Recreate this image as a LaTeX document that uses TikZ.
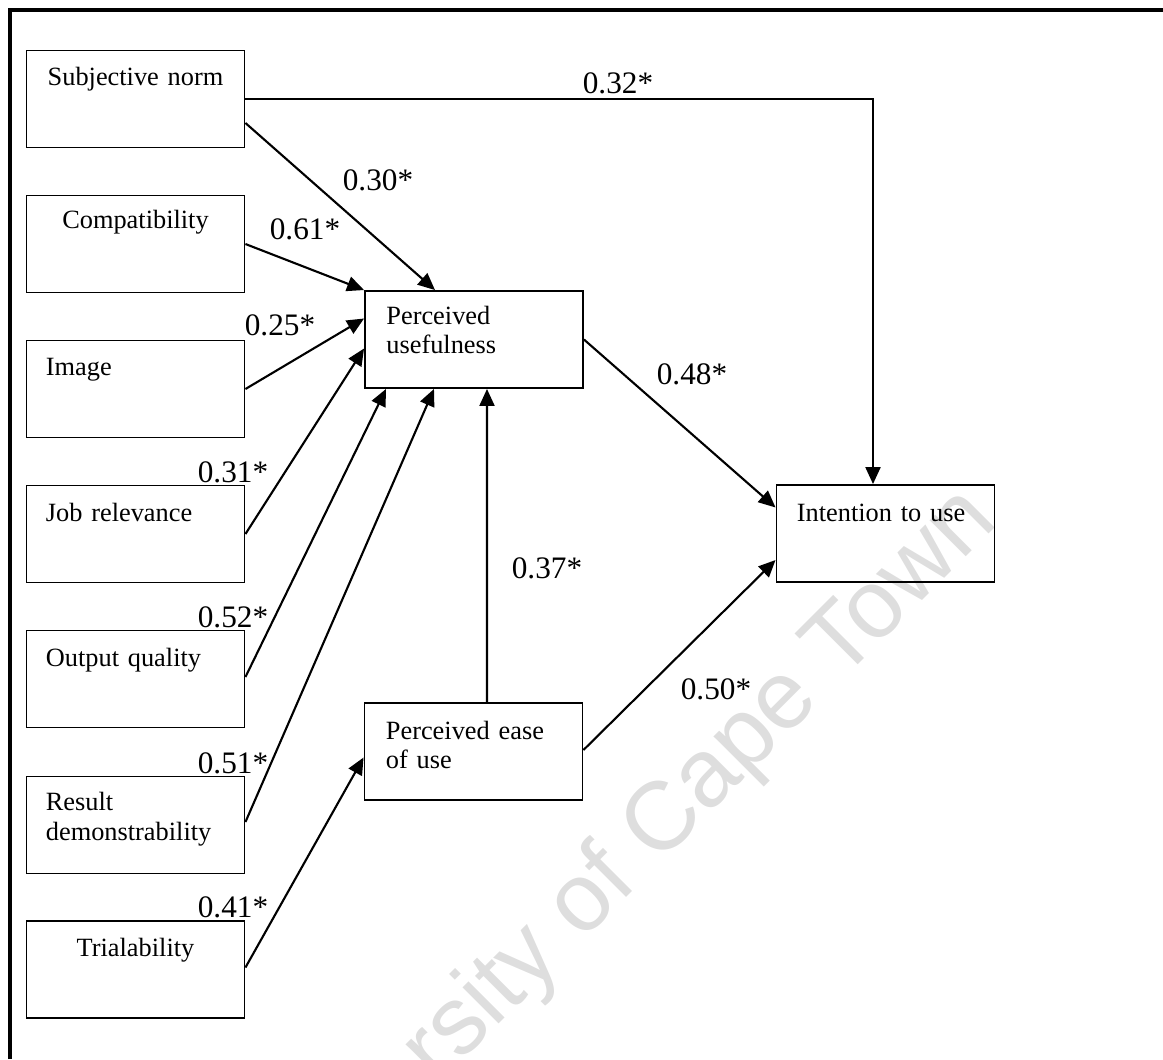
\documentclass[tikz,border=0pt]{standalone}
\usepackage{fontspec}
\setmainfont{Liberation Serif}
\newfontfamily\wmfont{Liberation Sans}
\usetikzlibrary{arrows.meta}
\definecolor{wmgray}{HTML}{DEDEDE}

\begin{document}
\begin{tikzpicture}[x=0.02cm, y=-0.02cm,
  box/.style={draw, line width=1.1pt, minimum width=4.36cm, minimum height=1.94cm, inner sep=0pt},
  boxtext/.style={font=\fontsize{15}{17}\selectfont, text width=4cm, align=left, inner sep=0pt},
  coef/.style={font=\fontsize{17.8}{20}\selectfont, inner sep=0pt},
  arr/.style={line width=1.2pt, -{Triangle[length=3.4mm, width=3mm]}}]
  \useasboundingbox (0,0) rectangle (1163,1059);
  % watermark
  \begin{scope}
    \clip (0,0) rectangle (1163,1059);
    \node[font=\wmfont\fontsize{55}{60}\selectfont, text=wmgray, rotate=45] (wm) at (614,874) {University of Cape Town};
  \end{scope}
  % frame
  \draw[line width=2.2pt] (10,1059) -- (10,10) -- (1163,10);
  % antecedents
  \node[box] (sn) at (135.5,99) {};
  \node[boxtext, align=center, anchor=base] (sn-t) at ([shift={(0,36)}]sn.north) {Subjective norm};
  \node[box] (comp) at (135.5,244) {};
  \node[boxtext, align=center, anchor=base] (comp-t) at ([shift={(0,34)}]comp.north) {Compatibility};
  \node[box] (img) at (135.5,389) {};
  \node[boxtext, anchor=base west] (img-t) at ([shift={(20,36)}]img.north west) {Image};
  \node[box] (job) at (135.5,534) {};
  \node[boxtext, anchor=base west] (job-t) at ([shift={(20,37)}]job.north west) {Job relevance};
  \node[box] (out) at (135.5,679) {};
  \node[boxtext, anchor=base west] (out-t) at ([shift={(20,37)}]out.north west) {Output quality};
  \node[box] (res) at (135.5,825) {};
  \node[boxtext, anchor=base west] (res-t) at ([shift={(20,35)}]res.north west) {Result\\demonstrability};
  \node[box] (tri) at (135.5,969.5) {};
  \node[boxtext, align=center, anchor=base] (tri-t) at ([shift={(0,36)}]tri.north) {Trialability};
  % TAM core
  \node[box] (pu) at (474,339.5) {};
  \node[boxtext, anchor=base west] (pu-t) at ([shift={(22,34)}]pu.north west) {Perceived\\usefulness};
  \node[box] (peou) at (473.5,751.5) {};
  \node[boxtext, anchor=base west] (peou-t) at ([shift={(22,37)}]peou.north west) {Perceived ease\\of use};
  \node[box] (itu) at (885.5,533.5) {};
  \node[boxtext, anchor=base west] (itu-t) at ([shift={(21,37)}]itu.north west) {Intention to use};
  % paths
  \draw[arr] (sn.east) -| ([shift={(-12.5,0)}]itu.north);
  \draw[arr] ([shift={(0,24)}]sn.east) -- ([shift={(-39,0)}]pu.north);
  \draw[arr] (comp.east) -- (pu.north west);
  \draw[arr] (img.east) -- ([shift={(0,-21)}]pu.west);
  \draw[arr] (job.east) -- ([shift={(0,9)}]pu.west);
  \draw[arr] ([shift={(0,-2)}]out.east) -- ([shift={(-88,0)}]pu.south);
  \draw[arr] ([shift={(0,-3)}]res.east) -- ([shift={(-40,0)}]pu.south);
  \draw[arr] ([shift={(0,-2)}]tri.east) -- ([shift={(0,6)}]peou.west);
  \draw[arr] ([shift={(13.5,0)}]peou.north) -- ([shift={(13,0)}]pu.south);
  \draw[arr] (pu.east) -- ([shift={(0,-26)}]itu.west);
  \draw[arr] ([shift={(0,-1.5)}]peou.east) -- ([shift={(0,26.5)}]itu.west);
  % coefficients
  \node[coef] (c-sn-itu) at (618,83) {0.32*};
  \node[coef] (c-sn-pu) at (378,180) {0.30*};
  \node[coef] (c-comp) at (305,229) {0.61*};
  \node[coef] (c-img) at (280,325) {0.25*};
  \node[coef] (c-job) at (233,472) {0.31*};
  \node[coef] (c-out) at (233,617) {0.52*};
  \node[coef] (c-res) at (233,763) {0.51*};
  \node[coef] (c-tri) at (233,907) {0.41*};
  \node[coef] (c-pu-itu) at (692,374) {0.48*};
  \node[coef] (c-peou-pu) at (547,568) {0.37*};
  \node[coef] (c-peou-itu) at (716,689) {0.50*};
\end{tikzpicture}
\end{document}
